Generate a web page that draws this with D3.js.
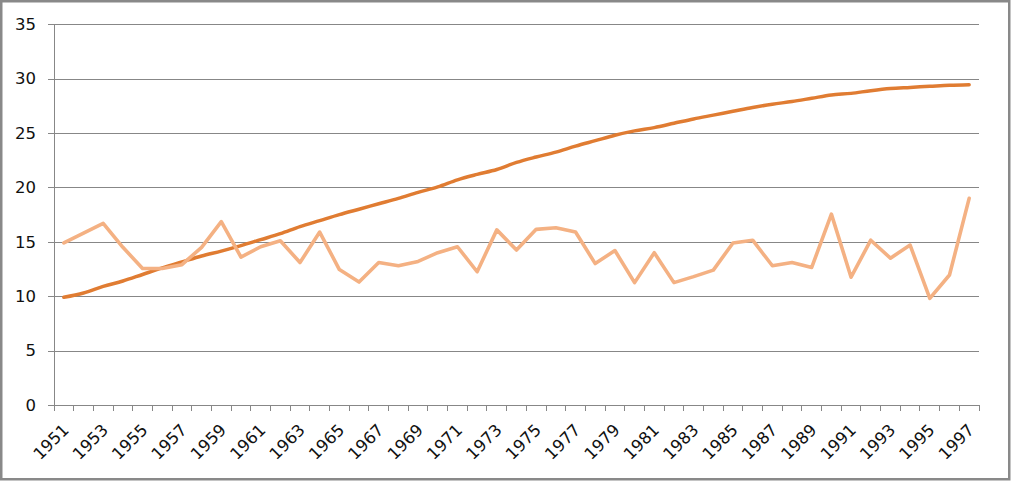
<!DOCTYPE html>
<html>
<head>
<meta charset="utf-8">
<script src="https://cdn.jsdelivr.net/npm/d3@7"></script>
<style>
  html, body { margin: 0; padding: 0; background: #fff; }
  svg { display: block; }
</style>
</head>
<body>
<svg id="chart" width="1011" height="481"></svg>
<script>
const years = d3.range(1951, 1998);
const annualValues = [
  14.9, 15.8, 16.7, 14.5, 12.55, 12.55, 12.9, 14.5, 16.85, 13.6,
  14.55, 15.1, 13.1, 15.9, 12.45, 11.3, 13.1, 12.8, 13.2, 14.0,
  14.55, 12.25, 16.1, 14.25, 16.15, 16.3, 15.9, 13.0, 14.2, 11.25,
  14.0, 11.25, 11.8, 12.4, 14.9, 15.15, 12.8, 13.1, 12.65, 17.55,
  11.75, 15.15, 13.5, 14.7, 9.8, 11.95, 19.0
];
const trendValues = [
  9.9, 10.3, 10.9, 11.4, 12.0, 12.6, 13.15, 13.7, 14.15, 14.65,
  15.2, 15.75, 16.4, 16.95, 17.5, 18.0, 18.5, 19.0, 19.55, 20.05,
  20.7, 21.2, 21.65, 22.3, 22.8, 23.25, 23.8, 24.3, 24.8, 25.2,
  25.5, 25.9, 26.3, 26.65, 27.0, 27.35, 27.65, 27.9, 28.2, 28.5,
  28.65, 28.9, 29.1, 29.2, 29.3, 29.4, 29.45
];
const yTicks = [0, 5, 10, 15, 20, 25, 30, 35];
const xLabelYears = years.filter((y, i) => i % 2 === 0);

const svg = d3.select("#chart");
const pLeft = 54, pRight = 979, pTop = 24.3, pBottom = 405;
const gridColor = "#878787";
const font = "DejaVu Sans, sans-serif";

// outer border
svg.append("rect")
  .attr("x", 1.25).attr("y", 1.25)
  .attr("width", 1008).attr("height", 478)
  .attr("fill", "#fff")
  .attr("stroke", "#898989").attr("stroke-width", 2.5);

const x = d3.scaleBand().domain(years).range([pLeft, pRight]).padding(0);
const y = d3.scaleLinear().domain([0, 35]).range([pBottom, pTop]);

// y gridlines + axis
const yAxis = d3.axisLeft(y).tickValues(yTicks).tickSize(-(pRight - pLeft)).tickPadding(12).tickFormat(d3.format("d"));
const gy = svg.append("g").attr("transform", `translate(${pLeft},0)`).call(yAxis);
gy.select(".domain").remove();
gy.selectAll(".tick line").attr("stroke", gridColor).attr("shape-rendering", "crispEdges")
  .attr("x1", -6);
gy.selectAll(".tick text").attr("font-family", font).attr("font-size", 16.5).attr("fill", "#111")
  .attr("x", -18);

// vertical axis line
svg.append("line").attr("x1", pLeft).attr("x2", pLeft).attr("y1", pTop).attr("y2", pBottom)
  .attr("stroke", gridColor).attr("shape-rendering", "crispEdges");

// x axis: ticks at category boundaries
const gx = svg.append("g");
gx.append("line").attr("x1", pLeft).attr("x2", pRight).attr("y1", pBottom).attr("y2", pBottom)
  .attr("stroke", gridColor).attr("shape-rendering", "crispEdges");
const boundaries = years.map(d => x(d)).concat([x(years[years.length - 1]) + x.bandwidth()]);
gx.selectAll("line.tk").data(boundaries).enter().append("line")
  .attr("class", "tk")
  .attr("x1", d => d).attr("x2", d => d)
  .attr("y1", pBottom).attr("y2", pBottom + 6)
  .attr("stroke", gridColor).attr("shape-rendering", "crispEdges");
gx.selectAll("text").data(xLabelYears).enter().append("text")
  .attr("transform", d => `translate(${x(d) + x.bandwidth() / 2 + 6},${pBottom + 26}) rotate(-45)`)
  .attr("text-anchor", "end")
  .attr("font-family", font).attr("font-size", 16.5).attr("fill", "#111")
  .text(d => d);

const cx = d => x(d) + x.bandwidth() / 2;

const trendLine = d3.line().x((d, i) => cx(years[i])).y(d => y(d)).curve(d3.curveMonotoneX);
const annualLine = d3.line().x((d, i) => cx(years[i])).y(d => y(d));

svg.append("path").datum(trendValues)
  .attr("d", trendLine)
  .attr("fill", "none").attr("stroke", "#E07C32").attr("stroke-width", 3.5)
  .attr("stroke-linejoin", "round").attr("stroke-linecap", "round");

svg.append("path").datum(annualValues)
  .attr("d", annualLine)
  .attr("fill", "none").attr("stroke", "#F4B183").attr("stroke-width", 3.6)
  .attr("stroke-linejoin", "round").attr("stroke-linecap", "round");
</script>
</body>
</html>
